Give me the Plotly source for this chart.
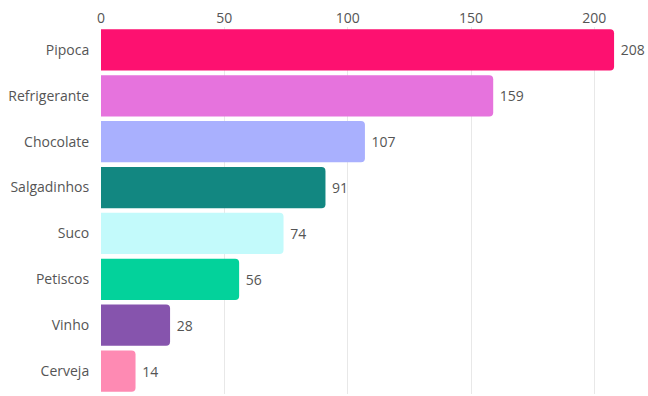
import plotly.graph_objects as go

categories = ["Pipoca", "Refrigerante", "Chocolate", "Salgadinhos", "Suco", "Petiscos", "Vinho", "Cerveja"]
values = [208, 159, 107, 91, 74, 56, 28, 14]
colors = ["#fd1170", "#e673dd", "#a9b0fe", "#128781", "#c3fafb", "#03d29b", "#8654ad", "#fe8ab3"]
tick_values = [0, 50, 100, 150, 200]

fig = go.Figure(
    go.Bar(
        x=values,
        y=categories,
        orientation="h",
        marker=dict(color=colors, line=dict(width=0)),
        text=["\u00a0" + str(v) for v in values],
        textposition="outside",
        textfont=dict(family="Open Sans", size=14, color="#555555"),
        cliponaxis=False,
        hoverinfo="skip",
    )
)

fig.update_layout(
    width=648,
    height=396,
    margin=dict(l=101, r=29, t=27, b=2),
    paper_bgcolor="white",
    plot_bgcolor="white",
    bargap=0.1,
    barcornerradius=4,
    showlegend=False,
    font=dict(family="Open Sans", size=14, color="#555555"),
    xaxis=dict(
        side="top",
        range=[0, 210],
        tickvals=tick_values,
        showgrid=True,
        gridcolor="#e8e8e8",
        zeroline=False,
        showline=False,
        ticks="",
        tickfont=dict(size=14, color="#555555"),
    ),
    yaxis=dict(
        autorange="reversed",
        showgrid=False,
        ticks="outside",
        ticklen=8,
        tickcolor="white",
        tickfont=dict(size=14, color="#555555"),
    ),
)

fig.write_html("out.html")
